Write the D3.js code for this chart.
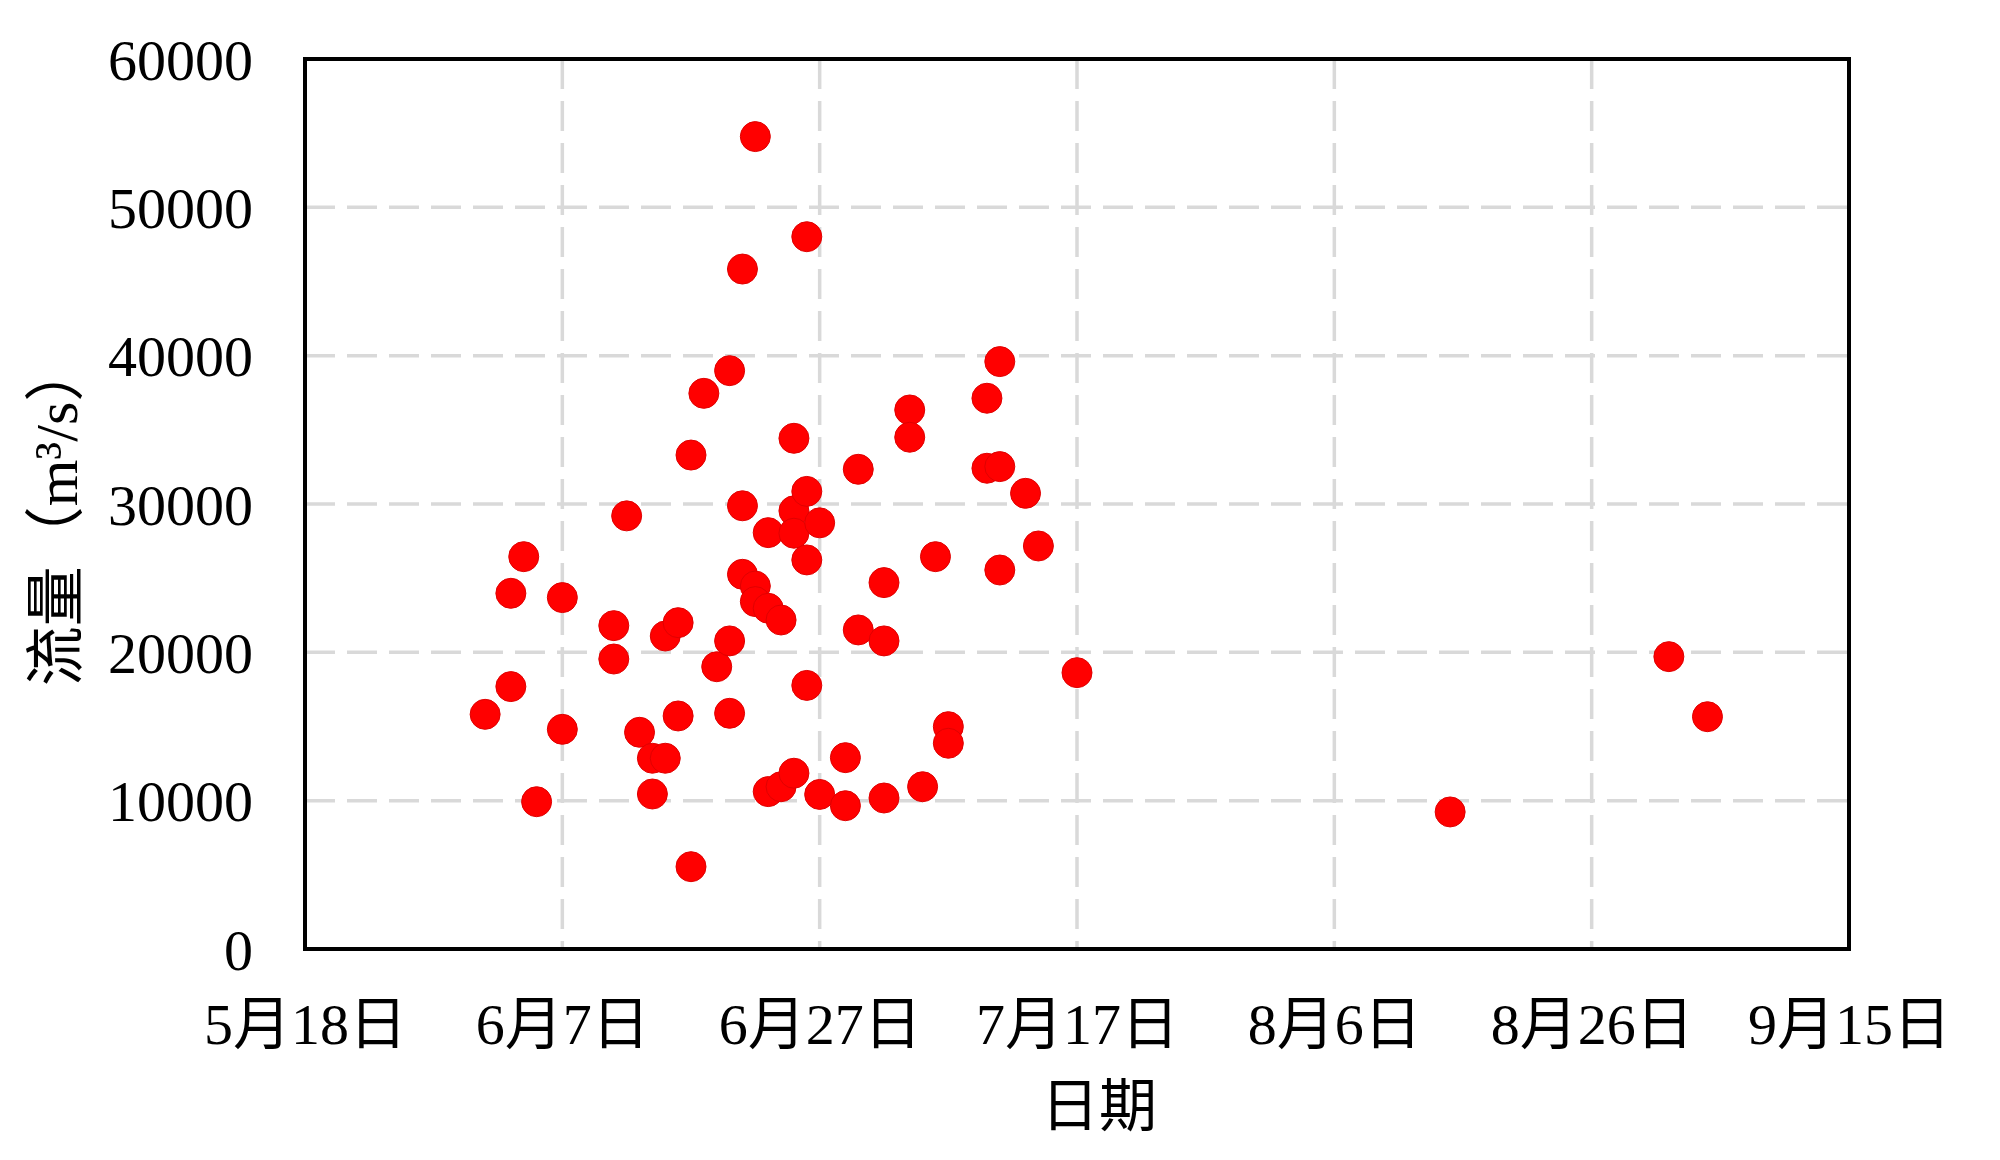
<!DOCTYPE html>
<html>
<head>
<meta charset="utf-8">
<script src="https://cdn.jsdelivr.net/npm/d3@7"></script>
<style>
  html, body { margin: 0; padding: 0; background: #fff; }
  svg { display: block; }
  text { font-family: "Liberation Serif", "Times New Roman", "Noto Sans CJK SC", serif; fill: #000; }
</style>
</head>
<body>
<svg id="chart" width="2000" height="1160"></svg>
<script>
// ---- data ----
const dates = [
  "06-01",
  "06-03","06-03",
  "06-04",
  "06-05",
  "06-07","06-07",
  "06-11","06-11",
  "06-12",
  "06-13",
  "06-14","06-14",
  "06-15","06-15",
  "06-16","06-16",
  "06-17","06-17",
  "06-18",
  "06-19",
  "06-20","06-20","06-20",
  "06-21","06-21","06-21",
  "06-22","06-22","06-22",
  "06-23","06-23","06-23",
  "06-24","06-24",
  "06-25","06-25","06-25","06-25",
  "06-26","06-26","06-26","06-26",
  "06-27","06-27",
  "06-29","06-29",
  "06-30","06-30",
  "07-02","07-02","07-02",
  "07-04","07-04",
  "07-05",
  "07-06",
  "07-07","07-07",
  "07-10","07-10",
  "07-11","07-11","07-11",
  "07-13",
  "07-14",
  "07-17",
  "08-15",
  "09-01",
  "09-04"
];
const flows = [
  15820,
  23980, 17690,
  26450,
  9930,
  23690, 14810,
  21800, 19550,
  29200,
  14610,
  12860, 10450,
  12860, 21100,
  22000, 15710,
  33300, 5550,
  37460,
  19030,
  38990, 20770, 15890,
  45840, 29880, 25260,
  54770, 24470, 23420,
  28070, 22970, 10610,
  22180, 10940,
  34430, 29540, 28030, 11850,
  48020, 30850, 26230, 17770,
  28730, 10420,
  12900, 9660,
  32340, 21510,
  24700, 20770, 10180,
  36340, 34500,
  10940,
  26450,
  14990, 13870,
  37130, 32410,
  39600, 32520, 25550,
  30720,
  27170,
  18630,
  9240,
  19710,
  15660
];
const xTickDates = ["05-18","06-07","06-27","07-17","08-06","08-26","09-15"];
const xTickLabels = ["5月18日","6月7日","6月27日","7月17日","8月6日","8月26日","9月15日"];
const yTicks = [0, 10000, 20000, 30000, 40000, 50000, 60000];
const xTitle = "日期";
const yTitle = "流量（m³/s）";

(function () {
  const YEAR = 2021;
  const parseMD = s => { const [m, d] = s.split("-").map(Number); return new Date(Date.UTC(YEAR, m - 1, d)); };
  const points = dates.map((d, i) => ({ date: parseMD(d), value: flows[i] }));
  const tickDates = xTickDates.map(parseMD);

  const svg = d3.select("#chart");
  const pL = 305, pR = 1849, pT = 59, pB = 949;

  const x = d3.scaleUtc().domain([tickDates[0], tickDates[tickDates.length - 1]]).range([pL, pR]);
  const y = d3.scaleLinear().domain([0, 60000]).range([pB, pT]);

  // gridlines
  const grid = svg.append("g").attr("class", "grid");
  grid.selectAll("line.h").data(yTicks.filter(v => v > 0 && v < 60000)).join("line")
    .attr("class", "h")
    .attr("x1", pL).attr("x2", pR)
    .attr("y1", d => y(d)).attr("y2", d => y(d))
    .attr("stroke", "#d9d9d9").attr("stroke-width", 3.5).attr("stroke-dasharray", "30,12");
  grid.selectAll("line.v").data(tickDates.slice(1, -1)).join("line")
    .attr("class", "v")
    .attr("x1", d => x(d)).attr("x2", d => x(d))
    .attr("y1", pT).attr("y2", pB)
    .attr("stroke", "#d9d9d9").attr("stroke-width", 3.5).attr("stroke-dasharray", "30,12");

  // points
  svg.append("g").selectAll("circle").data(points).join("circle")
    .attr("cx", d => x(d.date))
    .attr("cy", d => y(d.value))
    .attr("r", 15)
    .attr("fill", "#ff0000")
    .attr("stroke", "#e00000")
    .attr("stroke-width", 1);

  // frame
  svg.append("rect")
    .attr("x", pL).attr("y", pT)
    .attr("width", pR - pL).attr("height", pB - pT)
    .attr("fill", "none").attr("stroke", "#000").attr("stroke-width", 4);

  // axes
  const xAxis = d3.axisBottom(x)
    .tickValues(tickDates)
    .tickFormat((d, i) => xTickLabels[i])
    .tickSize(0).tickPadding(0);
  const gx = svg.append("g").attr("transform", `translate(0,${pB})`).call(xAxis);
  gx.select(".domain").remove();
  gx.selectAll("text")
    .attr("y", 95)
    .attr("dy", 0)
    .style("font-size", "58px")
    .style("fill", "#000");

  const yAxis = d3.axisLeft(y)
    .tickValues(yTicks)
    .tickFormat(d3.format("d"))
    .tickSize(0).tickPadding(0);
  const gy = svg.append("g").attr("transform", `translate(253,0)`).call(yAxis);
  gy.select(".domain").remove();
  gy.selectAll("text")
    .attr("x", 0)
    .attr("dy", "0.35em")
    .style("font-size", "58px")
    .style("fill", "#000");

  // axis titles
  svg.append("text")
    .attr("x", 1099).attr("y", 1126)
    .attr("text-anchor", "middle")
    .style("font-size", "58px")
    .text(xTitle);

  svg.append("text")
    .attr("transform", `translate(77,514) rotate(-90)`)
    .attr("text-anchor", "middle")
    .style("font-size", "60px")
    .text(yTitle);
})();
</script>
</body>
</html>
